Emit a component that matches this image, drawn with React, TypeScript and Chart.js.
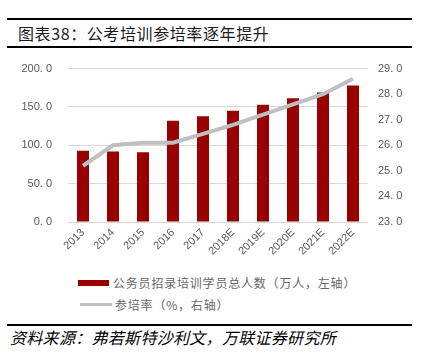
import React, { useEffect, useRef } from "react";
import { Chart, registerables } from "chart.js";

Chart.register(...registerables);

const categories = ["2013", "2014", "2015", "2016", "2017", "2018E", "2019E", "2020E", "2021E", "2022E"];
const trainees = [93, 92, 91, 132, 138, 145, 153, 161.5, 169, 178];
const participationRate = [25.2, 26.0, 26.1, 26.1, 26.45, 26.8, 27.2, 27.6, 28.0, 28.6];
const barLabel = "公务员招录培训学员总人数（万人，左轴）";
const lineLabel = "参培率（%，右轴）";
const titleText = "图表38：公考培训参培率逐年提升";
const sourceText = "资料来源：弗若斯特沙利文，万联证券研究所";

const BAR_COLOR = "#990000";
const LINE_COLOR = "#bfbfbf";
const CJK = '"Noto Sans CJK SC", "Noto Sans", sans-serif';

function fmt(v: number) {
  return v.toFixed(1).replace(".", ". ");
}

export default function App() {
  const ref = useRef<HTMLCanvasElement | null>(null);

  useEffect(() => {
    if (!ref.current) return;
    const chart = new Chart(ref.current, {
      type: "bar",
      data: {
        labels: categories,
        datasets: [
          {
            type: "line",
            label: lineLabel,
            data: participationRate,
            borderColor: LINE_COLOR,
            backgroundColor: LINE_COLOR,
            borderWidth: 4,
            pointRadius: 0,
            tension: 0,
            yAxisID: "y1",
            order: 0,
          },
          {
            type: "bar",
            label: barLabel,
            data: trainees,
            backgroundColor: BAR_COLOR,
            barPercentage: 0.4,
            categoryPercentage: 1,
            yAxisID: "y",
            order: 1,
          },
        ],
      },
      options: {
        animation: false,
        responsive: false,
        maintainAspectRatio: false,
        layout: { padding: { top: 10, left: 0, right: 0, bottom: 0 } },
        plugins: { legend: { display: false }, tooltip: { enabled: false } },
        scales: {
          x: {
            grid: { display: false, drawTicks: false },
            border: { display: false },
            ticks: {
              minRotation: 45,
              maxRotation: 45,
              padding: 4,
              color: "#595959",
              font: { family: '"Liberation Sans", Arial, sans-serif', size: 11 },
            },
            afterFit: (s: any) => {
              s.height = 40;
            },
          },
          y: {
            position: "left",
            min: 0,
            max: 200,
            grid: { color: "#d9d9d9", lineWidth: 1, drawTicks: false },
            border: { display: false },
            ticks: {
              stepSize: 50,
              padding: 16,
              color: "#595959",
              font: { family: '"Liberation Sans", Arial, sans-serif', size: 11 },
              callback: (v: any) => fmt(Number(v)),
            },
            afterFit: (s: any) => {
              s.width = 68;
            },
          },
          y1: {
            position: "right",
            min: 23,
            max: 29,
            grid: { display: false, drawTicks: false },
            border: { display: false },
            ticks: {
              stepSize: 1,
              padding: 10,
              color: "#595959",
              font: { family: '"Liberation Sans", Arial, sans-serif', size: 11 },
              callback: (v: any) => fmt(Number(v)),
            },
            afterFit: (s: any) => {
              s.width = 53;
            },
          },
        },
      },
    });
    return () => chart.destroy();
  }, []);

  return (
    <div style={{ position: "absolute", left: 0, top: 0, width: 421, height: 357, background: "#fff", overflow: "hidden" }}>
      <div style={{ position: "absolute", left: 7, top: 18, width: 405, height: 2, background: "#000" }} />
      <div
        style={{
          position: "absolute",
          left: 18,
          top: 22,
          fontFamily: CJK,
          fontSize: 16,
          letterSpacing: 0.6,
          lineHeight: "22px",
          color: "#1a1a1a",
          whiteSpace: "nowrap",
        }}
      >
        {titleText}
      </div>
      <div style={{ position: "absolute", left: 7, top: 46, width: 405, height: 2, background: "#000" }} />

      <canvas ref={ref} width={421} height={216} style={{ position: "absolute", left: 0, top: 46, width: 421, height: 216 }} />

      <div style={{ position: "absolute", left: 78, top: 280, width: 31, height: 6, background: BAR_COLOR }} />
      <div
        style={{
          position: "absolute",
          left: 113,
          top: 275,
          fontFamily: CJK,
          fontSize: 12,
          letterSpacing: 0.8,
          lineHeight: "16px",
          color: "#666",
          whiteSpace: "nowrap",
        }}
      >
        {barLabel}
      </div>
      <div style={{ position: "absolute", left: 80, top: 303, width: 32, height: 3, background: LINE_COLOR }} />
      <div
        style={{
          position: "absolute",
          left: 115,
          top: 297,
          fontFamily: CJK,
          fontSize: 12,
          letterSpacing: 0.8,
          lineHeight: "16px",
          color: "#666",
          whiteSpace: "nowrap",
        }}
      >
        {lineLabel}
      </div>

      <div style={{ position: "absolute", left: 7, top: 324, width: 405, height: 2, background: "#000" }} />
      <div
        style={{
          position: "absolute",
          left: 10,
          top: 327,
          fontFamily: CJK,
          fontSize: 16,
          fontStyle: "italic",
          letterSpacing: 0.3,
          lineHeight: "20px",
          color: "#000",
          whiteSpace: "nowrap",
        }}
      >
        {sourceText}
      </div>
    </div>
  );
}
